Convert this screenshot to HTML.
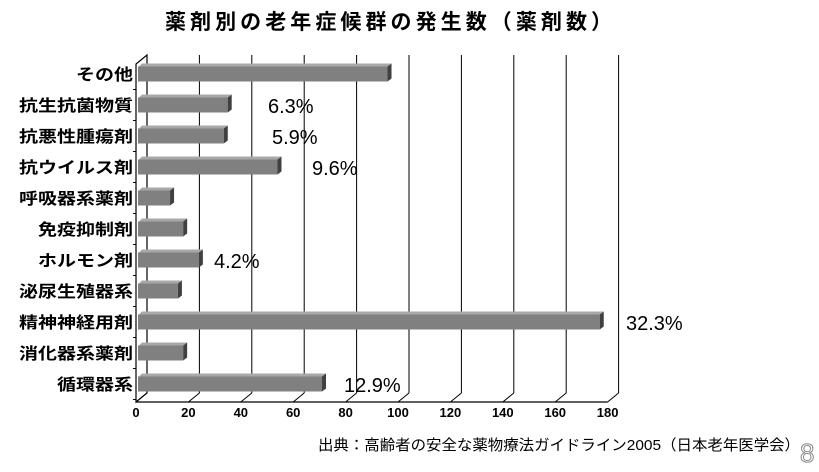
<!DOCTYPE html>
<html><head><meta charset="utf-8"><style>
body{margin:0;background:#fff;width:819px;height:467px;overflow:hidden;font-family:"Liberation Sans","Noto Sans CJK JP",sans-serif}
</style></head><body>
<svg width="819" height="467" xmlns="http://www.w3.org/2000/svg" font-family="Liberation Sans, Noto Sans CJK JP, sans-serif">
<text x="165" y="29" font-size="21" font-weight="bold" textLength="447" lengthAdjust="spacing">薬剤別の老年症候群の発生数（薬剤数）</text>
<g id="grid"></g><g id="bars"></g><g id="labels"></g>
<text x="318" y="450" font-size="15" textLength="482" lengthAdjust="spacingAndGlyphs">出典：高齢者の安全な薬物療法ガイドライン2005（日本老年医学会）</text>
<text x="800" y="462" font-size="26" fill="#fff" stroke="#888" stroke-width="1">8</text>
</svg>
<script>
const categories=["その他","抗生抗菌物質","抗悪性腫瘍剤","抗ウイルス剤","呼吸器系薬剤","免疫抑制剤","ホルモン剤","泌尿生殖器系","精神神経用剤","消化器系薬剤","循環器系"];
const values=[96,35,33.5,54,13,18,24,16,177,18,71];
const percents=["","6.3%","5.9%","9.6%","","","4.2%","","32.3%","","12.9%"];
const pctX=[0,268,272,312,0,0,214,0,626,0,344];
const ticks=[0,20,40,60,80,100,120,140,160,180];
const NS="http://www.w3.org/2000/svg";
const x0=136,ppu=2.62,floorY=402,dx=11,dy=-9,topY=55,rowTop=74,pitch=31,bh=15;
const X=v=>x0+v*ppu;
function mk(t,a,p){const e=document.createElementNS(NS,t);for(const k in a)e.setAttribute(k,a[k]);p.appendChild(e);return e;}
const g=document.getElementById('grid'),b=document.getElementById('bars'),l=document.getElementById('labels');
const wall=mk('path',{d:`M${x0},${floorY} L${x0},${topY-dy} L${x0+dx},${topY} L${x0+dx},${floorY+dy} Z`,fill:'#fff',stroke:'#000','stroke-width':1.2},g);

ticks.forEach((t,i)=>{
 const gl=mk('line',{x1:X(t)+dx,y1:topY,x2:X(t)+dx,y2:floorY+dy,stroke:'#000','stroke-width':1},g);
 
 const dg=mk('line',{x1:X(t),y1:floorY,x2:X(t)+dx,y2:floorY+dy,stroke:'#000','stroke-width':1},g);
 
 const tl=mk('text',{x:X(t),y:floorY+15,'text-anchor':'middle','font-size':13,'font-weight':'bold'},g);tl.textContent=t;
 
});
const fl=mk('line',{x1:x0,y1:floorY,x2:X(180),y2:floorY,stroke:'#000','stroke-width':1.2},g);

categories.forEach((c,i)=>{
 const y=rowTop+i*pitch-bh/2;
 const ty=rowTop+i*pitch-pitch/2;
 const tk=mk('line',{x1:x0-3,y1:ty+pitch,x2:x0,y2:ty+pitch,stroke:'#000'},g);
 
 const xe=X(values[i]);
 const grp=mk('g',{},b);
 
 mk('path',{d:`M${x0+3},${y} L${x0+6},${y-3} L${xe+4},${y-3} L${xe},${y} Z`,fill:'#a8a8a8'},grp);
 mk('rect',{x:x0+2,y:y,width:xe-x0-2,height:bh,fill:'#808080'},grp);
 mk('path',{d:`M${xe},${y} L${xe+4},${y-3} L${xe+4},${y+bh-3} L${xe},${y+bh} Z`,fill:'#404040'},grp);
 const w=c.length*19;
 const lt=mk('text',{x:133-w,y:rowTop+i*pitch+6,'font-size':16,'font-weight':'bold',textLength:w,lengthAdjust:'spacingAndGlyphs'},l);lt.textContent=c;
 
 if(percents[i]){const pt=mk('text',{x:pctX[i],y:rowTop+i*pitch+8,'font-size':20},l);pt.textContent=percents[i];
 }
});
</script>
</body></html>
